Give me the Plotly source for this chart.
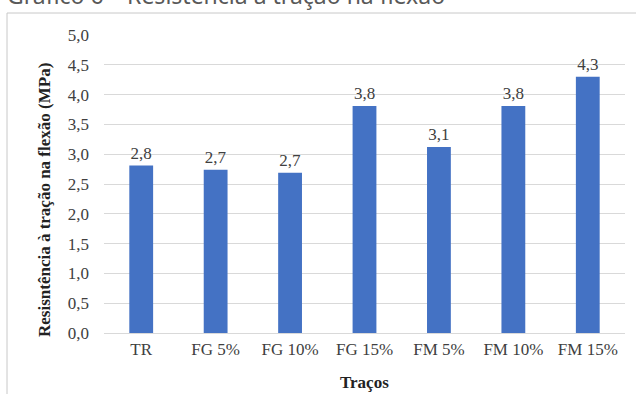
import plotly.graph_objects as go

# Flexural tensile strength per mix
tracos = ["TR", "FG 5%", "FG 10%", "FG 15%", "FM 5%", "FM 10%", "FM 15%"]
resistencia = [2.81, 2.74, 2.69, 3.81, 3.12, 3.81, 4.30]
y_ticks = [0.0, 0.5, 1.0, 1.5, 2.0, 2.5, 3.0, 3.5, 4.0, 4.5, 5.0]

W, H = 636, 394
L, R, T, B = 104, 11, 35, 61
pw, ph = W - L - R, H - T - B

def px_x(x):
    return (x - L) / pw

def px_y(y):
    return (H - B - y) / ph

serif = "Liberation Serif"

fig = go.Figure(
    go.Bar(
        x=tracos,
        y=resistencia,
        marker=dict(color="#4472C4", line=dict(width=0)),
        text=resistencia,
        texttemplate="%{y:.1f}",
        textposition="outside",
        cliponaxis=False,
        textfont=dict(family=serif, size=17, color="#404040"),
    )
)

fig.update_layout(
    width=W,
    height=H,
    margin=dict(l=L, r=R, t=T, b=B),
    paper_bgcolor="white",
    plot_bgcolor="white",
    separators=",.",
    bargap=0.68,
    showlegend=False,
    font=dict(family=serif, size=17, color="#404040"),
    xaxis=dict(
        showgrid=False,
        showline=False,
        ticks="",
        ticklabelstandoff=4,
        tickfont=dict(family=serif, size=17, color="#404040"),
    ),
    yaxis=dict(
        range=[0, 5],
        tickvals=y_ticks,
        tickformat=".1f",
        showgrid=True,
        gridcolor="#d9d9d9",
        gridwidth=1,
        zeroline=True,
        zerolinecolor="#d9d9d9",
        zerolinewidth=1,
        showline=False,
        ticks="",
        ticklabelstandoff=14,
        tickfont=dict(family=serif, size=17, color="#404040"),
    ),
    shapes=[
        # chart frame (extends past the right and bottom edges)
        dict(
            type="rect",
            xref="paper",
            yref="paper",
            x0=px_x(7),
            x1=px_x(660),
            y0=px_y(420),
            y1=px_y(13),
            line=dict(color="#c8c8c8", width=1),
            fillcolor="rgba(0,0,0,0)",
            layer="below",
        )
    ],
    annotations=[
        dict(
            text="Gráfico 6 – Resistência à tração na flexão",
            xref="paper",
            yref="paper",
            x=px_x(5),
            y=px_y(13),
            xanchor="left",
            yanchor="bottom",
            showarrow=False,
            font=dict(family="Noto Sans", size=23, color="#595959"),
        ),
        dict(
            text="<b>Resisntência à tração na flexão (MPa)</b>",
            xref="paper",
            yref="paper",
            x=px_x(45),
            y=px_y(200),
            textangle=-90,
            xanchor="center",
            yanchor="middle",
            showarrow=False,
            font=dict(family=serif, size=17, color="#222222"),
        ),
        dict(
            text="<b>Traços</b>",
            xref="paper",
            yref="paper",
            x=0.5,
            y=px_y(382),
            xanchor="center",
            yanchor="middle",
            showarrow=False,
            font=dict(family=serif, size=17, color="#222222"),
        ),
    ],
)

fig.write_html("out.html")
